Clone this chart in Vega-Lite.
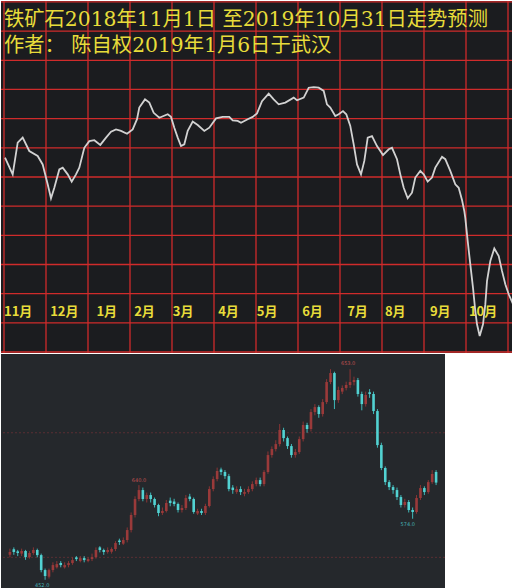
{
  "$schema": "https://vega.github.io/schema/vega-lite/v6.json",
  "background": "white",
  "padding": 0,
  "spacing": 0,
  "config": {"view": {"stroke": null}, "concat": {"spacing": 0}},
  "datasets": {
    "grid": [{"k":0},{"k":1},{"k":2},{"k":3},{"k":4},{"k":5},{"k":6},{"k":7},{"k":8},{"k":9},{"k":10},{"k":11},{"k":12}],
    "trend": [
      {"month":0.024,"level":6.66},{"month":0.207,"level":6.09},{"month":0.326,"level":7.18},{"month":0.445,"level":7.35},{"month":0.602,"level":6.89},{"month":0.802,"level":6.72},{"month":0.921,"level":6.43},{"month":1.040,"level":5.75},{"month":1.119,"level":5.27},{"month":1.198,"level":5.63},{"month":1.317,"level":6.26},{"month":1.398,"level":6.32},{"month":1.517,"level":6.09},{"month":1.612,"level":5.84},{"month":1.714,"level":6.09},{"month":1.793,"level":6.32},{"month":1.912,"level":7.00},{"month":2.031,"level":7.23},{"month":2.150,"level":7.26},{"month":2.293,"level":7.10},{"month":2.429,"level":7.35},{"month":2.548,"level":7.55},{"month":2.667,"level":7.63},{"month":2.786,"level":7.58},{"month":2.929,"level":7.48},{"month":3.064,"level":7.63},{"month":3.167,"level":7.98},{"month":3.221,"level":8.38},{"month":3.357,"level":8.66},{"month":3.460,"level":8.55},{"month":3.564,"level":8.20},{"month":3.698,"level":8.03},{"month":3.898,"level":8.15},{"month":3.976,"level":8.06},{"month":4.055,"level":7.69},{"month":4.136,"level":7.35},{"month":4.214,"level":7.06},{"month":4.293,"level":7.12},{"month":4.374,"level":7.58},{"month":4.493,"level":7.90},{"month":4.612,"level":7.78},{"month":4.769,"level":7.58},{"month":4.888,"level":7.69},{"month":5.048,"level":8.01},{"month":5.207,"level":8.06},{"month":5.364,"level":8.06},{"month":5.445,"level":7.94},{"month":5.564,"level":7.92},{"month":5.643,"level":7.86},{"month":5.802,"level":7.98},{"month":5.921,"level":8.06},{"month":6.024,"level":8.18},{"month":6.143,"level":8.60},{"month":6.302,"level":8.86},{"month":6.421,"level":8.66},{"month":6.540,"level":8.49},{"month":6.698,"level":8.55},{"month":6.898,"level":8.72},{"month":6.976,"level":8.63},{"month":7.136,"level":8.72},{"month":7.255,"level":9.06},{"month":7.374,"level":9.08},{"month":7.493,"level":9.06},{"month":7.612,"level":8.95},{"month":7.690,"level":8.49},{"month":7.769,"level":8.38},{"month":7.888,"level":8.09},{"month":7.969,"level":8.15},{"month":8.071,"level":8.26},{"month":8.150,"level":8.15},{"month":8.245,"level":7.75},{"month":8.326,"level":7.12},{"month":8.405,"level":6.43},{"month":8.500,"level":6.09},{"month":8.579,"level":6.55},{"month":8.660,"level":7.35},{"month":8.762,"level":7.40},{"month":8.881,"level":7.06},{"month":9.024,"level":6.75},{"month":9.160,"level":6.95},{"month":9.238,"level":7.00},{"month":9.357,"level":6.61},{"month":9.436,"level":6.09},{"month":9.517,"level":5.63},{"month":9.612,"level":5.27},{"month":9.714,"level":5.46},{"month":9.793,"level":5.98},{"month":9.912,"level":6.21},{"month":9.993,"level":6.09},{"month":10.088,"level":5.84},{"month":10.190,"level":5.98},{"month":10.269,"level":6.32},{"month":10.429,"level":6.69},{"month":10.507,"level":6.61},{"month":10.626,"level":6.21},{"month":10.745,"level":5.75},{"month":10.826,"level":5.63},{"month":10.905,"level":5.21},{"month":10.960,"level":4.83},{"month":10.983,"level":4.60},{"month":11.040,"level":3.81},{"month":11.102,"level":3.01},{"month":11.167,"level":2.20},{"month":11.221,"level":1.41},{"month":11.262,"level":0.95},{"month":11.326,"level":0.55},{"month":11.405,"level":0.95},{"month":11.460,"level":1.64},{"month":11.500,"level":2.43},{"month":11.579,"level":3.12},{"month":11.674,"level":3.55},{"month":11.779,"level":3.29},{"month":11.857,"level":2.78},{"month":11.936,"level":2.32},{"month":12.017,"level":1.98},{"month":12.119,"level":1.64}
    ],
    "titles": [
      {"month":0,"level":11.16,"text":"铁矿石2018年11月1日 至2019年10月31日走势预测"},
      {"month":0,"level":10.27,"text":"作者： 陈自权2019年1月6日于武汉"}
    ],
    "months": [
      {"month":0.0,"level":1.234,"text":"11月"},
      {"month":1.1,"level":1.234,"text":"12月"},
      {"month":2.2,"level":1.234,"text":"1月"},
      {"month":3.1,"level":1.234,"text":"2月"},
      {"month":4.02,"level":1.234,"text":"3月"},
      {"month":5.1,"level":1.234,"text":"4月"},
      {"month":6.02,"level":1.234,"text":"5月"},
      {"month":7.1,"level":1.234,"text":"6月"},
      {"month":8.17,"level":1.234,"text":"7月"},
      {"month":9.07,"level":1.234,"text":"8月"},
      {"month":10.14,"level":1.234,"text":"9月"},
      {"month":11.07,"level":1.234,"text":"10月"}
    ],
    "levels": [{"p":500},{"p":600}],
    "candles": [
      {"t":0,"o":502.0,"c":504.3,"h":507,"l":500},{"t":1,"o":506.5,"c":504.3,"h":508,"l":502},{"t":2,"o":504.8,"c":503.5,"h":506,"l":501},{"t":3,"o":503.0,"c":505.1,"h":507,"l":501},{"t":4,"o":505.1,"c":500.2,"h":506,"l":498},{"t":5,"o":500.2,"c":503.5,"h":505,"l":499},{"t":6,"o":503.5,"c":505.9,"h":508,"l":502},{"t":7,"o":505.9,"c":501.8,"h":507,"l":500},{"t":8,"o":501.8,"c":489.8,"h":503,"l":488},{"t":9,"o":489.8,"c":485.0,"h":491,"l":482},
      {"t":10,"o":484.5,"c":489.8,"h":491,"l":483},{"t":11,"o":489.8,"c":493.8,"h":496,"l":488},{"t":12,"o":492.0,"c":494.6,"h":497,"l":491},{"t":13,"o":495.5,"c":493.8,"h":497,"l":492},{"t":14,"o":492.0,"c":493.8,"h":496,"l":491},{"t":15,"o":493.8,"c":495.4,"h":497,"l":492},{"t":16,"o":495.4,"c":497.8,"h":500,"l":494},{"t":17,"o":500.0,"c":498.6,"h":501,"l":497},{"t":18,"o":497.0,"c":499.4,"h":501,"l":496},{"t":19,"o":499.4,"c":497.8,"h":501,"l":496},
      {"t":20,"o":497.0,"c":498.6,"h":500,"l":496},{"t":21,"o":498.6,"c":500.2,"h":503,"l":497},{"t":22,"o":500.2,"c":505.9,"h":508,"l":499},{"t":23,"o":508.0,"c":505.9,"h":509,"l":504},{"t":24,"o":505.9,"c":504.3,"h":507,"l":502},{"t":25,"o":504.3,"c":505.9,"h":508,"l":503},{"t":26,"o":504.5,"c":506.7,"h":508,"l":503},{"t":27,"o":506.7,"c":511.5,"h":513,"l":505},{"t":28,"o":513.5,"c":512.3,"h":515,"l":510},{"t":29,"o":511.0,"c":513.9,"h":516,"l":510},
      {"t":30,"o":513.9,"c":521.9,"h":524,"l":512},{"t":31,"o":521.9,"c":534.0,"h":536,"l":520},{"t":32,"o":534.0,"c":546.8,"h":549,"l":532},{"t":33,"o":546.8,"c":554.0,"h":558,"l":545},{"t":34,"o":554.0,"c":546.8,"h":556,"l":545},{"t":35,"o":546.8,"c":550.0,"h":552,"l":544},{"t":36,"o":550.0,"c":546.8,"h":552,"l":544},{"t":37,"o":546.8,"c":542.0,"h":548,"l":540},{"t":38,"o":542.0,"c":535.6,"h":543,"l":533},{"t":39,"o":535.6,"c":537.2,"h":540,"l":534},
      {"t":40,"o":537.2,"c":543.6,"h":546,"l":536},{"t":41,"o":545.5,"c":543.6,"h":548,"l":541},{"t":42,"o":544.8,"c":542.8,"h":547,"l":541},{"t":43,"o":542.8,"c":538.0,"h":544,"l":536},{"t":44,"o":538.0,"c":539.6,"h":542,"l":536},{"t":45,"o":539.6,"c":547.6,"h":550,"l":538},{"t":46,"o":548.8,"c":546.8,"h":551,"l":545},{"t":47,"o":546.8,"c":536.4,"h":548,"l":535},{"t":48,"o":535.2,"c":537.2,"h":539,"l":534},{"t":49,"o":537.2,"c":535.6,"h":539,"l":534},
      {"t":50,"o":535.6,"c":541.2,"h":543,"l":534},{"t":51,"o":541.2,"c":554.8,"h":557,"l":540},{"t":52,"o":554.8,"c":562.8,"h":565,"l":553},{"t":53,"o":562.8,"c":569.3,"h":572,"l":561},{"t":54,"o":570.5,"c":568.5,"h":572,"l":566},{"t":55,"o":568.5,"c":565.2,"h":570,"l":563},{"t":56,"o":565.2,"c":554.8,"h":567,"l":553},{"t":57,"o":556.0,"c":554.0,"h":558,"l":551},{"t":58,"o":552.5,"c":554.8,"h":557,"l":551},{"t":59,"o":554.8,"c":552.4,"h":557,"l":550},
      {"t":60,"o":551.0,"c":552.4,"h":555,"l":549},{"t":61,"o":552.4,"c":554.8,"h":557,"l":551},{"t":62,"o":554.8,"c":558.8,"h":561,"l":553},{"t":63,"o":558.8,"c":562.0,"h":564,"l":557},{"t":64,"o":562.0,"c":558.8,"h":564,"l":557},{"t":65,"o":558.8,"c":568.5,"h":570,"l":557},{"t":66,"o":568.5,"c":582.1,"h":585,"l":567},{"t":67,"o":582.1,"c":586.9,"h":589,"l":580},{"t":68,"o":586.9,"c":590.9,"h":594,"l":585},{"t":69,"o":590.9,"c":602.2,"h":607,"l":589},
      {"t":70,"o":602.2,"c":595.7,"h":604,"l":593},{"t":71,"o":595.7,"c":589.3,"h":597,"l":587},{"t":72,"o":589.3,"c":582.1,"h":591,"l":580},{"t":73,"o":582.1,"c":584.5,"h":587,"l":580},{"t":74,"o":584.5,"c":594.9,"h":597,"l":583},{"t":75,"o":594.9,"c":606.2,"h":609,"l":593},{"t":76,"o":606.2,"c":603.0,"h":608,"l":600},{"t":77,"o":603.0,"c":616.6,"h":619,"l":601},{"t":78,"o":616.6,"c":620.6,"h":623,"l":614},{"t":79,"o":620.6,"c":615.0,"h":622,"l":612},
      {"t":80,"o":615.0,"c":624.6,"h":627,"l":613},{"t":81,"o":624.6,"c":640.7,"h":643,"l":623},{"t":82,"o":640.7,"c":647.9,"h":651,"l":639},{"t":83,"o":647.9,"c":626.2,"h":649,"l":619},{"t":84,"o":626.2,"c":634.3,"h":637,"l":624},{"t":85,"o":633.0,"c":635.9,"h":638,"l":631},{"t":86,"o":635.9,"c":638.3,"h":641,"l":634},{"t":87,"o":638.3,"c":640.7,"h":651,"l":636},{"t":88,"o":640.7,"c":642.3,"h":645,"l":638},{"t":89,"o":642.3,"c":631.1,"h":644,"l":629},
      {"t":90,"o":631.1,"c":623.0,"h":633,"l":618},{"t":91,"o":623.0,"c":630.3,"h":633,"l":621},{"t":92,"o":632.5,"c":631.1,"h":635,"l":628},{"t":93,"o":631.1,"c":617.4,"h":633,"l":615},{"t":94,"o":617.4,"c":590.1,"h":619,"l":588},{"t":95,"o":590.1,"c":571.7,"h":592,"l":570},{"t":96,"o":571.7,"c":560.4,"h":573,"l":558},{"t":97,"o":560.4,"c":556.4,"h":562,"l":554},{"t":98,"o":556.4,"c":554.0,"h":558,"l":551},{"t":99,"o":554.0,"c":548.4,"h":556,"l":546},
      {"t":100,"o":548.4,"c":542.0,"h":550,"l":540},{"t":101,"o":542.0,"c":544.4,"h":547,"l":540},{"t":102,"o":544.4,"c":538.0,"h":546,"l":536},{"t":103,"o":538.0,"c":536.4,"h":540,"l":531},{"t":104,"o":536.4,"c":547.6,"h":550,"l":535},{"t":105,"o":547.6,"c":555.6,"h":558,"l":546},{"t":106,"o":555.6,"c":552.4,"h":557,"l":550},{"t":107,"o":552.4,"c":560.4,"h":562,"l":551},{"t":108,"o":560.4,"c":566.9,"h":570,"l":559},{"t":109,"o":568.5,"c":560.0,"h":570,"l":558}
    ],
    "marks": [
      {"t":8.25,"p":477.8,"label":"452.0","kind":"low"},
      {"t":33,"p":562,"label":"640.0","kind":"high"},
      {"t":86.5,"p":656,"label":"653.0","kind":"high"},
      {"t":101.75,"p":526.7,"label":"574.0","kind":"low"}
    ]
  },
  "vconcat": [
    {
      "width": 512,
      "height": 352,
      "view": {"fill": "#1b1c1f", "stroke": null},
      "layer": [
        {
          "data": {"name": "grid"},
          "mark": {"type": "rule", "color": "#d02b2b", "strokeWidth": 1.3},
          "encoding": {"x": {"field": "k", "type": "quantitative", "scale": {"domain": [-0.0714, 12.119], "nice": false, "zero": false}, "axis": null}}
        },
        {
          "data": {"name": "grid"},
          "mark": {"type": "rule", "color": "#d02b2b", "strokeWidth": 1.3},
          "encoding": {"y": {"field": "k", "type": "quantitative", "scale": {"domain": [-0.0343, 12.033], "nice": false, "zero": false}, "axis": null}}
        },
        {
          "data": {"name": "trend"},
          "mark": {"type": "line", "color": "#d2d2d2", "strokeWidth": 1.8, "clip": true},
          "encoding": {
            "x": {"field": "month", "type": "quantitative", "scale": {"domain": [-0.0714, 12.119], "nice": false, "zero": false}, "axis": null},
            "y": {"field": "level", "type": "quantitative", "scale": {"domain": [-0.0343, 12.033], "nice": false, "zero": false}, "axis": null}
          }
        },
        {
          "data": {"name": "titles"},
          "mark": {"type": "text", "align": "left", "baseline": "alphabetic", "font": "DejaVu Serif, Noto Sans CJK SC", "fontSize": 20.3, "color": "#e8dc3a"},
          "encoding": {
            "x": {"field": "month", "type": "quantitative", "axis": null},
            "y": {"field": "level", "type": "quantitative", "axis": null},
            "text": {"field": "text"}
          }
        },
        {
          "data": {"name": "months"},
          "mark": {"type": "text", "align": "left", "baseline": "alphabetic", "font": "Noto Sans CJK SC", "fontSize": 13, "fontWeight": "bold", "color": "#e8dc3a"},
          "encoding": {
            "x": {"field": "month", "type": "quantitative", "axis": null},
            "y": {"field": "level", "type": "quantitative", "axis": null},
            "text": {"field": "text"}
          }
        }
      ]
    },
    {
      "width": 444,
      "height": 234,
      "view": {"fill": "#25282c", "stroke": null},
      "layer": [
        {
          "data": {"name": "levels"},
          "mark": {"type": "rule", "color": "#5a2f33", "strokeWidth": 1, "strokeDash": [2, 2]},
          "encoding": {"y": {"field": "p", "type": "quantitative", "scale": {"domain": [475.4, 663.2], "nice": false, "zero": false}, "axis": null}}
        },
        {
          "data": {"name": "candles"},
          "mark": {"type": "rule", "strokeWidth": 1},
          "encoding": {
            "x": {"field": "t", "type": "quantitative", "scale": {"domain": [-1, 110], "nice": false, "zero": false}, "axis": null},
            "y": {"field": "l", "type": "quantitative", "scale": {"domain": [475.4, 663.2], "nice": false, "zero": false}, "axis": null},
            "y2": {"field": "h"},
            "color": {"condition": {"test": "datum.c >= datum.o", "value": "#8c3434"}, "value": "#3fb8b8"}
          }
        },
        {
          "data": {"name": "candles"},
          "mark": {"type": "bar", "size": 2.6},
          "encoding": {
            "x": {"field": "t", "type": "quantitative", "scale": {"domain": [-1, 110], "nice": false, "zero": false}, "axis": null},
            "y": {"field": "o", "type": "quantitative", "scale": {"domain": [475.4, 663.2], "nice": false, "zero": false}, "axis": null},
            "y2": {"field": "c"},
            "color": {"condition": {"test": "datum.c >= datum.o", "value": "#9a3a3a"}, "value": "#52d2d2"}
          }
        },
        {
          "data": {"name": "marks"},
          "mark": {"type": "text", "font": "DejaVu Sans", "fontSize": 5, "align": "center", "baseline": "middle"},
          "encoding": {
            "x": {"field": "t", "type": "quantitative", "axis": null},
            "y": {"field": "p", "type": "quantitative", "axis": null},
            "text": {"field": "label"},
            "color": {"condition": {"test": "datum.kind == 'high'", "value": "#c05050"}, "value": "#45b5b5"}
          }
        }
      ]
    }
  ]
}
